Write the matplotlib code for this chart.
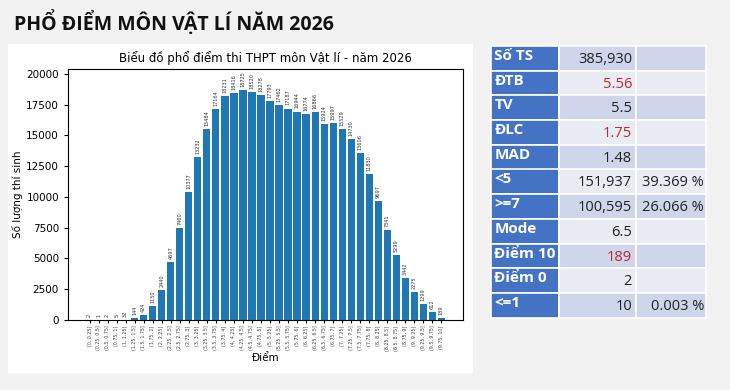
import matplotlib
matplotlib.use("Agg")
import matplotlib.pyplot as plt
from matplotlib.patches import Rectangle

# ---- data ----
bins = ["[0, 0.25]", "(0.25, 0.5]", "(0.5, 0.75]", "(0.75, 1]", "(1, 1.25]", "(1.25, 1.5]",
        "(1.5, 1.75]", "(1.75, 2]", "(2, 2.25]", "(2.25, 2.5]", "(2.5, 2.75]", "(2.75, 3]",
        "(3, 3.25]", "(3.25, 3.5]", "(3.5, 3.75]", "(3.75, 4]", "(4, 4.25]", "(4.25, 4.5]",
        "(4.5, 4.75]", "(4.75, 5]", "(5, 5.25]", "(5.25, 5.5]", "(5.5, 5.75]", "(5.75, 6]",
        "(6, 6.25]", "(6.25, 6.5]", "(6.5, 6.75]", "(6.75, 7]", "(7, 7.25]", "(7.25, 7.5]",
        "(7.5, 7.75]", "(7.75, 8]", "(8, 8.25]", "(8.25, 8.5]", "(8.5, 8.75]", "(8.75, 9]",
        "(9, 9.25]", "(9.25, 9.5]", "(9.5, 9.75]", "(9.75, 10]"]
counts = [2, 1, 2, 5, 32, 144, 424, 1150, 2440, 4697, 7460, 10377, 13232, 15484, 17164,
          18231, 18416, 18725, 18520, 18278, 17793, 17462, 17187, 16944, 16774, 16866,
          15924, 15997, 15529, 14730, 13606, 11830, 9697, 7341, 5299, 3442, 2275, 1299, 612, 189]

stat_names = ["Số TS", "ĐTB", "TV", "ĐLC", "MAD", "<5", ">=7", "Mode", "Điểm 10", "Điểm 0", "<=1"]
stat_values = ["385,930", "5.56", "5.5", "1.75", "1.48", "151,937", "100,595", "6.5", "189", "2", "10"]
stat_pcts = ["", "", "", "", "", "39.369 %", "26.066 %", "", "", "", "0.003 %"]
stat_red = [False, True, False, True, False, False, False, False, True, False, False]

page_title = "PHỔ ĐIỂM MÔN VẬT LÍ NĂM 2026"
chart_title = "Biểu đồ phổ điểm thi THPT môn Vật lí - năm 2026"
W, H = 730, 390

fig = plt.figure(figsize=(W / 100, H / 100), dpi=100, facecolor="#f2f2f2")

def fx(x):
    return x / W

def fy(y):
    return 1 - y / H

# page title
fig.text(fx(14), fy(22), page_title, fontsize=14, fontweight="bold", family=["Open Sans", "DejaVu Sans"],
         color="#111111", va="center", ha="left")

# white chart panel
fig.patches.append(Rectangle((fx(8), fy(373)), fx(465), (373 - 44) / H, transform=fig.transFigure,
                             facecolor="white", edgecolor="none", zorder=0))

ax = fig.add_axes([fx(68), fy(320), fx(463 - 68), (320 - 69) / H])
ax.set_zorder(3)
x = list(range(len(bins)))
bars = ax.bar(x, counts, color="#1f77b4", width=0.8)
for xi, c in zip(x, counts):
    ax.text(xi, c + 250, str(c), rotation=90, ha="center", va="bottom", fontsize=3.6, color="#333333")
ax.set_xticks(x)
ax.set_xticklabels(bins, rotation=90, fontsize=3.4, color="#444444")
ax.set_ylim(0, 20400)
ax.set_yticks(range(0, 20001, 2500))
ax.tick_params(axis="y", labelsize=7.5, length=3)
ax.tick_params(axis="x", length=2, pad=2)
ax.set_title(chart_title, fontsize=8.5, pad=5)
ax.set_ylabel("Số lượng thí sinh", fontsize=7.5, labelpad=2)
ax.set_xlabel("Điểm", fontsize=7.5, labelpad=2)
for s in ax.spines.values():
    s.set_linewidth(0.8)

# stats table
col_x = [490.5, 559, 636, 706]
top, row_h = 46, 24.7
for i, (nm, val, pct, red) in enumerate(zip(stat_names, stat_values, stat_pcts, stat_red)):
    y0 = top + i * row_h
    light = "#cfd5ea" if i % 2 == 0 else "#e9ebf5"
    fills = ["#4472c4", light, light]
    for j in range(3):
        fig.patches.append(Rectangle((fx(col_x[j]), fy(y0 + row_h)), fx(col_x[j + 1] - col_x[j]), row_h / H,
                                     transform=fig.transFigure, facecolor=fills[j], edgecolor="white",
                                     linewidth=1.2, zorder=1))
    fig.text(fx(col_x[0] + 4), fy(y0 + 10), nm, fontsize=11, fontweight="bold", color="white",
             family=["Open Sans", "DejaVu Sans"], va="center", ha="left", zorder=2)
    fig.text(fx(col_x[2] - 4), fy(y0 + 13.5), val, fontsize=10.5, color="#c0282d" if red else "#222222",
             family=["Open Sans", "DejaVu Sans"], va="center", ha="right", zorder=2)
    if pct:
        fig.text(fx(col_x[3] - 2), fy(y0 + 13.5), pct, fontsize=10.5, color="#222222",
                 family=["Open Sans", "DejaVu Sans"], va="center", ha="right", zorder=2)

fig.savefig("out.png", dpi=100, facecolor=fig.get_facecolor())
